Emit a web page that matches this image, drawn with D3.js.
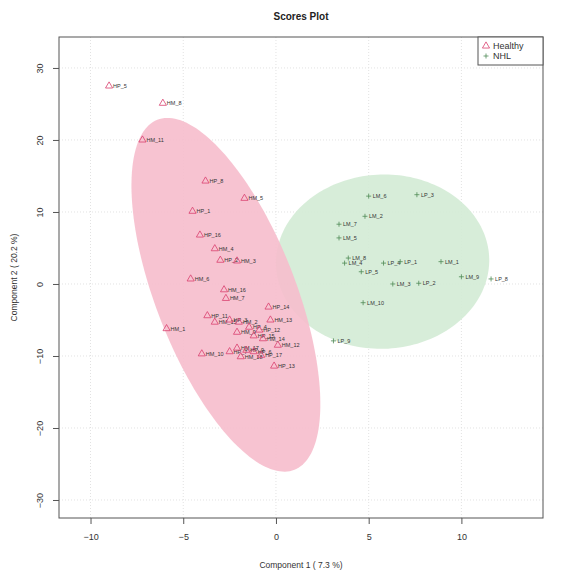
<!DOCTYPE html>
<html lang="en">
<head>
<meta charset="UTF-8">
<title>Scores Plot</title>
<script src="https://d3js.org/d3.v7.min.js"></script>
<style>
  body { margin: 0; background: #fff; }
  text { font-family: "Liberation Sans", Arial, sans-serif; }
</style>
</head>
<body>
<script>

// Healthy samples (component 1, component 2)
var healthyNames = ["HP_5","HM_8","HM_11","HP_8","HM_5","HP_1","HP_16","HM_4","HP_2","HM_3",
    "HM_6","HM_16","HM_7","HP_14","HM_1","HP_11","HM_15","HP_3","HM_2","HM_13",
    "HP_4","HP_12","HM_9","HP_15","HM_14","HM_12","HM_10","HP_7","HM_17","HP_9",
    "HP_6","HM_18","HP_17","HP_13"];
var healthyX = [-9.0,-6.1,-7.2,-3.8,-1.7,-4.5,-4.1,-3.3,-3.0,-2.1,
    -4.6,-2.8,-2.7,-0.4,-5.9,-3.7,-3.3,-2.5,-2.0,-0.3,
    -1.45,-0.9,-2.1,-1.2,-0.7,0.1,-4.0,-2.5,-2.1,-1.6,
    -1.2,-1.9,-0.8,-0.1];
var healthyY = [27.5,25.1,20.0,14.3,11.9,10.1,6.8,4.9,3.3,3.2,
    0.7,-0.8,-2.0,-3.2,-6.2,-4.4,-5.3,-5.0,-5.3,-5.0,
    -6.0,-6.4,-6.7,-7.2,-7.6,-8.5,-9.7,-9.4,-8.9,-9.2,
    -9.4,-10.1,-9.9,-11.4];

// NHL samples
var nhlNames = ["LM_6","LP_3","LM_2","LM_7","LM_5","LM_8","LM_4","LP_5","LP_4","LP_1",
    "LM_1","LM_9","LP_8","LM_3","LP_2","LM_10","LP_9"];
var nhlX = [5.0,7.6,4.8,3.4,3.4,3.9,3.7,4.6,5.8,6.7,8.9,10.0,11.6,6.3,7.7,4.7,3.1];
var nhlY = [12.2,12.4,9.4,8.3,6.4,3.6,2.9,1.7,2.9,3.1,3.1,1.0,0.7,0.0,0.1,-2.6,-7.9];

// 95% ellipses: centre and two conjugate half-axis vectors, in data units
var healthyEllipse = {cx: -2.7, cy: -1.5, ax: 3.7, ay: -24.3, bx: 3.5, by: 3.6};
var nhlEllipse = {cx: 5.75, cy: 3.1, ax: 5.75, ay: 0.4, bx: -0.1, by: 12.1};

var xTicks = [-10, -5, 0, 5, 10];
var yTicks = [-30, -20, -10, 0, 10, 20, 30];

var W = 576, H = 576;
var pL = 59, pR = 543, pT = 37, pB = 518;

var x = d3.scaleLinear().domain([-11.7, 14.4]).range([pL, pR]);
var y = d3.scaleLinear().domain([-32.5, 34.3]).range([pB, pT]);

var svg = d3.select("body").append("svg")
    .attr("width", W)
    .attr("height", H);

// grid
svg.append("g").selectAll("line").data(xTicks).enter().append("line")
    .attr("x1", d => x(d)).attr("x2", d => x(d))
    .attr("y1", pT).attr("y2", pB)
    .attr("stroke", "#e2e2e2").attr("stroke-dasharray", "1,2");
svg.append("g").selectAll("line").data(yTicks).enter().append("line")
    .attr("y1", d => y(d)).attr("y2", d => y(d))
    .attr("x1", pL).attr("x2", pR)
    .attr("stroke", "#e2e2e2").attr("stroke-dasharray", "1,2");

// ellipses
function ellipsePath(e) {
    var ts = d3.range(0, 2 * Math.PI, Math.PI / 90);
    return d3.line()
        .x(t => x(e.cx + Math.cos(t) * e.ax + Math.sin(t) * e.bx))
        .y(t => y(e.cy + Math.cos(t) * e.ay + Math.sin(t) * e.by))
        .curve(d3.curveLinearClosed)(ts);
}
svg.append("path").attr("d", ellipsePath(nhlEllipse))
    .attr("fill", "#d3ebd5").attr("opacity", 0.9);
svg.append("path").attr("d", ellipsePath(healthyEllipse))
    .attr("fill", "#f6bccc").attr("opacity", 0.9);

// healthy points
var tri = d3.symbol().type(d3.symbolTriangle).size(22);
var hp = svg.append("g").selectAll("g").data(healthyNames).enter().append("g")
    .attr("transform", (d, i) => "translate(" + x(healthyX[i]) + "," + y(healthyY[i]) + ")");
hp.append("path").attr("d", tri)
    .attr("fill", "none").attr("stroke", "#d9406e").attr("stroke-width", 0.8);
hp.append("text").text(d => d)
    .attr("x", 4).attr("dy", "0.35em")
    .style("font-size", "5.5px").attr("fill", "#333");

// NHL points
var np = svg.append("g").selectAll("g").data(nhlNames).enter().append("g")
    .attr("transform", (d, i) => "translate(" + x(nhlX[i]) + "," + y(nhlY[i]) + ")");
np.append("path").attr("d", "M-2.5,0H2.5M0,-2.5V2.5")
    .attr("stroke", "#4f8a55").attr("stroke-width", 0.8);
np.append("text").text(d => d)
    .attr("x", 4).attr("dy", "0.35em")
    .style("font-size", "5.5px").attr("fill", "#333");

// box
svg.append("rect")
    .attr("x", pL).attr("y", pT)
    .attr("width", pR - pL).attr("height", pB - pT)
    .attr("fill", "none").attr("stroke", "#555").attr("stroke-width", 1);

// axes
var xAxis = svg.append("g").attr("transform", "translate(0," + pB + ")")
    .call(d3.axisBottom(x).tickValues(xTicks).tickSize(6).tickPadding(10));
var yAxis = svg.append("g").attr("transform", "translate(" + pL + ",0)")
    .call(d3.axisLeft(y).tickValues(yTicks).tickSize(6).tickPadding(6));
[xAxis, yAxis].forEach(function(a) {
    a.select(".domain").remove();
    a.selectAll(".tick line").attr("stroke", "#555");
    a.selectAll(".tick text").attr("fill", "#333").style("font-size", "9px")
        .style("font-family", "Liberation Sans, Arial, sans-serif");
});
yAxis.selectAll(".tick text")
    .attr("x", null).attr("dy", null)
    .attr("text-anchor", "middle")
    .attr("transform", "translate(-16,0) rotate(-90)");

// titles
svg.append("text").text("Scores Plot")
    .attr("x", (pL + pR) / 2).attr("y", 20)
    .attr("text-anchor", "middle")
    .style("font-size", "10px").style("font-weight", "bold").attr("fill", "#222");
svg.append("text").text("Component 1 ( 7.3 %)")
    .attr("x", (pL + pR) / 2).attr("y", 568)
    .attr("text-anchor", "middle")
    .style("font-size", "8.5px").attr("fill", "#333");
svg.append("text").text("Component 2 ( 20.2 %)")
    .attr("transform", "translate(17," + ((pT + pB) / 2) + ") rotate(-90)")
    .attr("text-anchor", "middle")
    .style("font-size", "8.5px").attr("fill", "#333");

// legend
var lg = svg.append("g").attr("transform", "translate(478,37)");
lg.append("rect").attr("width", 65).attr("height", 28)
    .attr("fill", "#fff").attr("stroke", "#555");
lg.append("path").attr("d", tri).attr("transform", "translate(8,9)")
    .attr("fill", "none").attr("stroke", "#d9406e").attr("stroke-width", 0.8);
lg.append("text").text("Healthy").attr("x", 15).attr("y", 9).attr("dy", "0.35em")
    .style("font-size", "9px").attr("fill", "#333");
lg.append("path").attr("d", "M-2.5,0H2.5M0,-2.5V2.5").attr("transform", "translate(8,19)")
    .attr("stroke", "#4f8a55").attr("stroke-width", 0.8);
lg.append("text").text("NHL").attr("x", 15).attr("y", 19).attr("dy", "0.35em")
    .style("font-size", "9px").attr("fill", "#333");

</script>
</body>
</html>
